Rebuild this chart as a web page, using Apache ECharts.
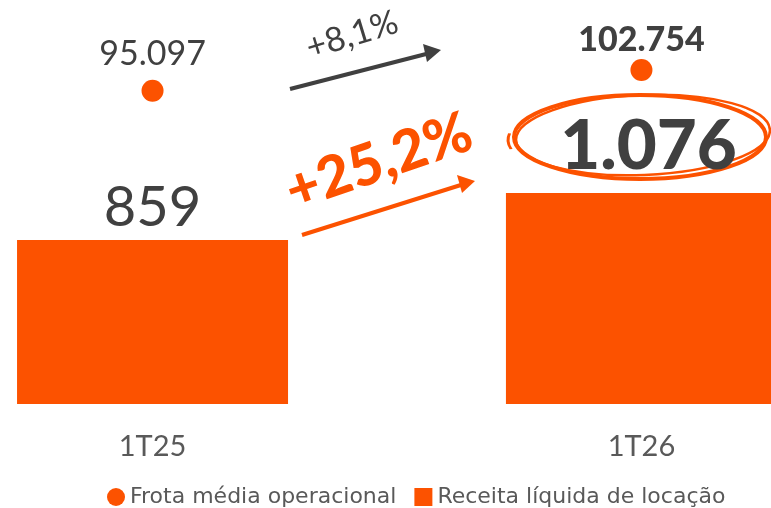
<!DOCTYPE html>
<html>
<head>
<meta charset="utf-8">
<script src="https://cdn.jsdelivr.net/npm/echarts@6/dist/echarts.min.js"></script>
<style>
  html, body { margin: 0; padding: 0; background: #fff; }
  #chart { width: 771px; height: 508px; }
</style>
</head>
<body>
<div id="chart"></div>
<script>
const categories = ['1T25', '1T26'];
const receita = [859, 1076];
const frota = [95097, 102754];
const variacaoFrota = '+8,1%';
const variacaoReceita = '+25,2%';

const ORANGE = '#fc5200';
const DARK = '#404040';
const GREY = '#595959';
const FONT = 'Lato, "Noto Sans", sans-serif';

const fmt = (v) => String(v).replace(/\B(?=(\d{3})+(?!\d))/g, '.');

const chart = echarts.init(document.getElementById('chart'));

chart.setOption({
    backgroundColor: '#fff',
    animation: false,
    textStyle: { fontFamily: FONT },
    legend: {
        data: [
            { name: 'Frota média operacional', icon: 'circle' },
            { name: 'Receita líquida de locação', icon: 'rect' }
        ],
        left: 102,
        top: 481,
        itemWidth: 18,
        itemHeight: 18,
        itemGap: 18,
        itemTextGap: 9,
        itemStyle: { opacity: 1 },
        textStyle: { color: GREY, fontSize: 22, fontFamily: '"DejaVu Sans", sans-serif' }
    },
    grid: { left: 0, right: 0, top: 4, bottom: 104 },
    // eixo x numérico para que as barras saiam cortadas na borda direita, como no original
    xAxis: {
        type: 'value',
        min: -0.312,
        max: 1.265,
        axisLine: { show: false },
        axisTick: { show: false },
        splitLine: { show: false },
        axisLabel: {
            customValues: [0, 1],
            formatter: (v) => categories[v],
            color: GREY, fontSize: 29, margin: 28, fontFamily: FONT
        }
    },
    yAxis: [
        { type: 'value', min: 100, max: 1950, show: false, splitLine: { show: false } },
        { type: 'value', min: -20800, max: 127200, show: false, splitLine: { show: false } }
    ],
    series: [
        {
            name: 'Receita líquida de locação',
            type: 'bar',
            barWidth: 271,
            itemStyle: { color: ORANGE },
            data: [
                {
                    value: [0, receita[0]],
                    label: { show: true, position: 'top', distance: 4, fontSize: 56, color: DARK, formatter: (p) => fmt(p.value[1]) }
                },
                {
                    value: [1, receita[1]],
                    label: { show: true, position: 'top', distance: 12, fontSize: 69, fontWeight: 900, color: DARK, offset: [7, 0], formatter: (p) => fmt(p.value[1]) }
                }
            ]
        },
        {
            name: 'Frota média operacional',
            type: 'scatter',
            yAxisIndex: 1,
            symbol: 'circle',
            symbolSize: 22,
            itemStyle: { color: ORANGE, opacity: 1 },
            data: [
                {
                    value: [0, frota[0]],
                    label: { show: true, position: 'top', distance: 9, fontSize: 34, color: DARK, formatter: (p) => fmt(p.value[1]) }
                },
                {
                    value: [1, frota[1]],
                    label: { show: true, position: 'top', distance: 2, fontSize: 34, fontWeight: 900, color: DARK, formatter: (p) => fmt(p.value[1]) }
                }
            ]
        }
    ],
    graphic: [
        // seta cinza (frota)
        { type: 'line', shape: { x1: 290, y1: 89, x2: 430, y2: 53 }, style: { stroke: DARK, lineWidth: 4 } },
        { type: 'polygon', shape: { points: [[441, 50], [423, 44], [427, 62]] }, style: { fill: DARK } },
        {
            type: 'text', x: 352, y: 35, rotation: 17 * Math.PI / 180,
            style: { text: variacaoFrota, fontSize: 34, fill: DARK, fontFamily: FONT, align: 'center', verticalAlign: 'middle' }
        },
        // seta laranja (receita)
        { type: 'line', shape: { x1: 302, y1: 235, x2: 464, y2: 184 }, style: { stroke: ORANGE, lineWidth: 4 } },
        { type: 'polygon', shape: { points: [[475, 181], [457, 175], [462, 193]] }, style: { fill: ORANGE } },
        {
            type: 'text', x: 379, y: 162, rotation: 19 * Math.PI / 180,
            style: { text: variacaoReceita, fontSize: 57, fontWeight: 900, fill: ORANGE, fontFamily: FONT, align: 'center', verticalAlign: 'middle' }
        },
        // círculo à mão em volta de 1.076
        {
            type: 'ellipse', shape: { cx: 640, cy: 137, rx: 126, ry: 42 },
            style: { stroke: ORANGE, lineWidth: 4, fill: 'none' }
        },
        {
            type: 'ellipse', shape: { cx: 643, cy: 135, rx: 127, ry: 40 }, rotation: 0.04, originX: 643, originY: 135,
            style: { stroke: ORANGE, lineWidth: 2.5, fill: 'none' }
        },
        {
            type: 'arc', shape: { cx: 636, cy: 140, r: 128, startAngle: Math.PI * 0.93, endAngle: Math.PI * 1.05 }, scaleY: 0.33, originX: 636, originY: 140,
            style: { stroke: ORANGE, lineWidth: 3, fill: 'none' }
        }
    ]
});
</script>
</body>
</html>
